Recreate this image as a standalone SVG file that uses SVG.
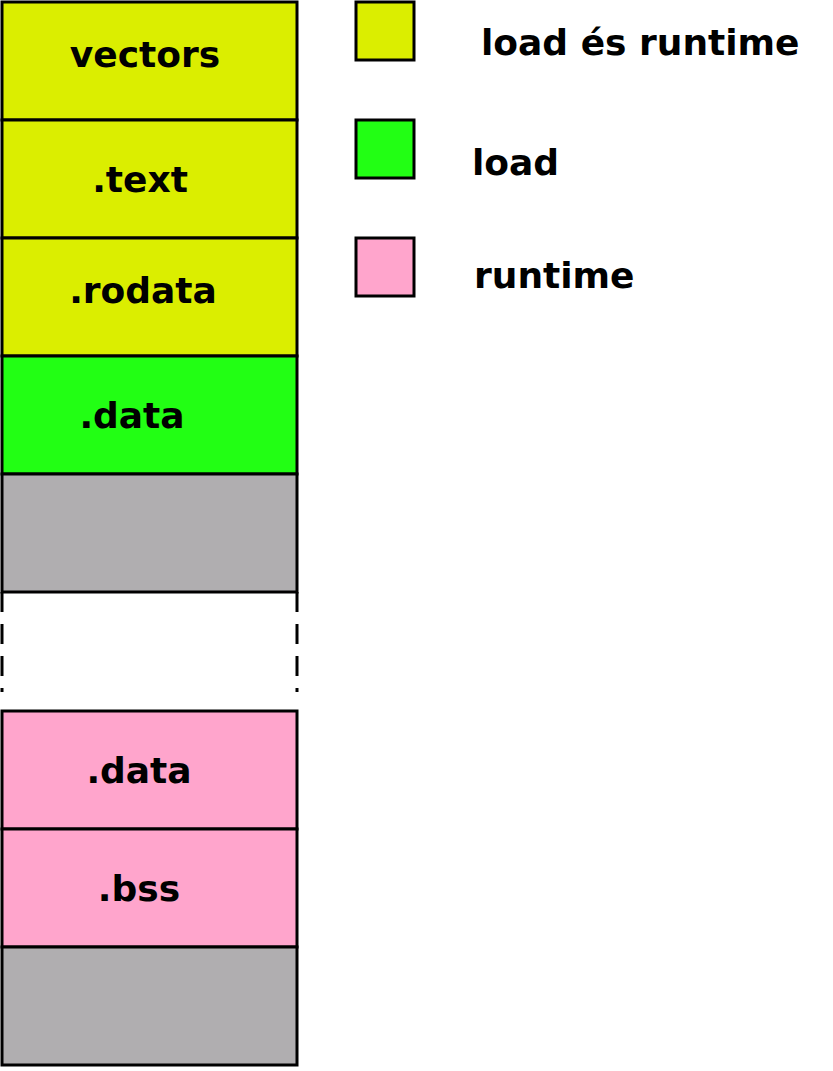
<svg xmlns="http://www.w3.org/2000/svg" width="833" height="1071" viewBox="0 0 833 1071">
<style>
rect{stroke:#000;stroke-width:3}
.y{fill:#dbee00}.g{fill:#22ff14}.p{fill:#ffa5cc}.k{fill:#b0aeb0}
text{font-family:"DejaVu Sans",sans-serif;font-weight:bold;font-size:36px;fill:#000}
.c{text-anchor:middle}
</style>
<rect width="833" height="1071" fill="#fff" style="stroke:none"/>
<g id="vectors"><rect class="y" x="2" y="2" width="295" height="118"/><text class="c" x="145" y="67">vectors</text></g>
<g id="text"><rect class="y" x="2" y="120" width="295" height="118"/><text class="c" x="140" y="192">.text</text></g>
<g id="rodata"><rect class="y" x="2" y="238" width="295" height="118"/><text class="c" x="143" y="303">.rodata</text></g>
<g id="data1"><rect class="g" x="2" y="356" width="295" height="118"/><text class="c" x="132" y="428">.data</text></g>
<g id="gray1"><rect class="k" x="2" y="474" width="295" height="118"/></g>
<g id="gap"><path d="M2 592V692M297 592V692" stroke="#000" stroke-width="3" stroke-dasharray="20,12" fill="none"/></g>
<g id="data2"><rect class="p" x="2" y="711" width="295" height="118"/><text class="c" x="139" y="783">.data</text></g>
<g id="bss"><rect class="p" x="2" y="829" width="295" height="118"/><text class="c" x="139" y="901">.bss</text></g>
<g id="gray2"><rect class="k" x="2" y="947" width="295" height="118"/></g>
<g id="legend1"><rect class="y" x="356" y="2" width="58" height="58"/><text x="481" y="55">load és runtime</text></g>
<g id="legend2"><rect class="g" x="356" y="120" width="58" height="58"/><text x="472" y="175">load</text></g>
<g id="legend3"><rect class="p" x="356" y="238" width="58" height="58"/><text x="474" y="288">runtime</text></g>
<g id="connectors"></g>
</svg>
